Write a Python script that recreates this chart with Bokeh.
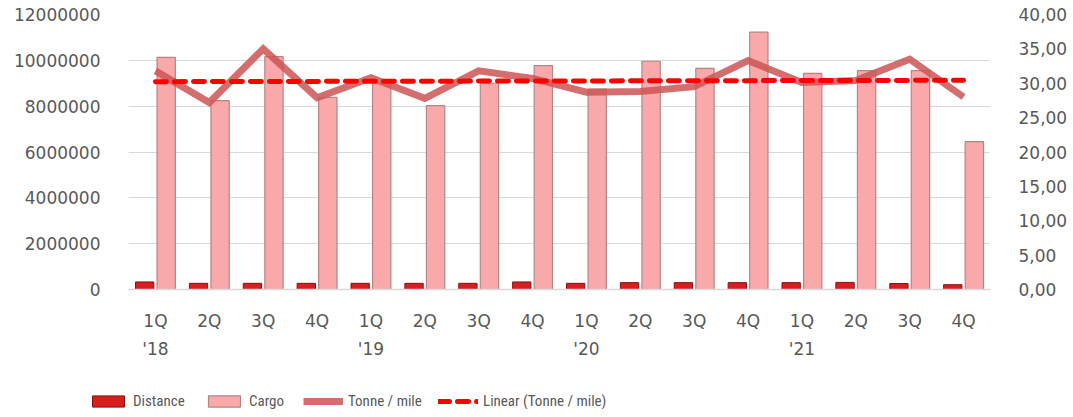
import numpy as np
from bokeh.plotting import figure
from bokeh.layouts import column
from bokeh.models import (Range1d, LinearAxis, FixedTicker, Legend, LegendItem,
                          ColumnDataSource, CustomJSTickFormatter, NumeralTickFormatter)
from bokeh.embed import file_html
from bokeh.resources import INLINE

quarters = ["1Q", "2Q", "3Q", "4Q", "1Q", "2Q", "3Q", "4Q",
            "1Q", "2Q", "3Q", "4Q", "1Q", "2Q", "3Q", "4Q"]
years = ["'18", "", "", "", "'19", "", "", "", "'20", "", "", "", "'21", "", "", ""]
distance = [330000, 270000, 270000, 270000, 270000, 270000, 270000, 330000,
            270000, 300000, 300000, 300000, 300000, 310000, 260000, 210000]
cargo = [10130000, 8240000, 10160000, 8380000, 9000000, 8020000, 9000000, 9770000,
         8750000, 9960000, 9650000, 11230000, 9430000, 9550000, 9550000, 6450000]
tonne_mile = [31.8, 27.2, 35.0, 27.9, 30.8, 27.8, 31.8, 30.7,
              28.7, 28.8, 29.5, 33.3, 30.1, 30.4, 33.5, 28.0]
series_names = ["Distance", "Cargo", "Tonne / mile", "Linear (Tonne / mile)"]

idx = np.arange(len(quarters))
slope, intercept = np.polyfit(idx, tonne_mile, 1)
trend = list(slope * idx + intercept)

src = ColumnDataSource(dict(x=idx, xd=idx - 0.2, xc=idx + 0.2, distance=distance,
                            cargo=cargo, tm=tonne_mile, trend=trend))

p = figure(width=1073, height=380, output_backend="svg", toolbar_location=None,
           x_range=Range1d(-0.5, 15.5), y_range=Range1d(0, 12000000),
           min_border_left=128, min_border_right=83, min_border_top=14,
           min_border_bottom=91, outline_line_color=None)
p.extra_y_ranges = {"tm": Range1d(0, 40)}

AX_FONT = "DejaVu Sans"
AX_COLOR = "#595959"

# grid
p.xgrid.grid_line_color = None
p.ygrid.grid_line_color = "#d9d9d9"
p.ygrid.grid_line_width = 1

# left axis
la = p.yaxis[0]
la.ticker = FixedTicker(ticks=[0, 2000000, 4000000, 6000000, 8000000, 10000000, 12000000])
la.formatter = NumeralTickFormatter(format="0")
la.axis_line_color = None
la.major_tick_line_color = None
la.minor_tick_line_color = None
la.major_label_standoff = 22
la.major_label_text_font = AX_FONT
la.major_label_text_font_size = "17px"
la.major_label_text_color = AX_COLOR

# right axis
ra = LinearAxis(y_range_name="tm")
ra.ticker = FixedTicker(ticks=[0, 5, 10, 15, 20, 25, 30, 35, 40])
ra.formatter = CustomJSTickFormatter(code="return tick.toFixed(2).replace('.', ',');")
ra.axis_line_color = None
ra.major_tick_line_color = None
ra.minor_tick_line_color = None
ra.major_label_standoff = 22
ra.major_label_text_font = AX_FONT
ra.major_label_text_font_size = "17px"
ra.major_label_text_color = AX_COLOR
p.add_layout(ra, "right")

# bottom axis
xa = p.xaxis[0]
xa.ticker = FixedTicker(ticks=list(idx))
xa.major_label_overrides = {int(i): (q + "\n" + y if y else q) for i, q, y in zip(idx, quarters, years)}
xa.axis_line_color = "#d9d9d9"
xa.axis_line_width = 1.5
xa.major_tick_line_color = None
xa.minor_tick_line_color = None
xa.major_label_standoff = 15
xa.major_label_text_font = AX_FONT
xa.major_label_text_font_size = "17px"
xa.major_label_text_color = AX_COLOR
xa.major_label_text_line_height = 1.44

DIST_STYLE = dict(fill_color="#d81e1e", line_color="#8a1010", line_width=1)
CARGO_STYLE = dict(fill_color="#f9a9a9", line_color="#b58585", line_width=1.2)
TM_STYLE = dict(line_color="#cd5555", line_alpha=0.85, line_width=7)
TR_STYLE = dict(line_color="#ff0000", line_width=5, line_dash="11 8", line_cap="round")

# bars
p.vbar(x="xd", top="distance", width=0.34, bottom=0, source=src, **DIST_STYLE)
p.vbar(x="xc", top="cargo", width=0.34, bottom=0, source=src, **CARGO_STYLE)
# tonne / mile line
p.line(x="x", y="tm", source=src, y_range_name="tm", line_join="miter", **TM_STYLE)
# linear trend
p.line(x="x", y="trend", source=src, y_range_name="tm", **TR_STYLE)

# legend strip (separate figure, so the legend is not clipped by the chart frame)
lf = figure(width=1073, height=37, output_backend="svg", toolbar_location=None,
            x_range=Range1d(0, 1), y_range=Range1d(0, 1),
            x_axis_location=None, y_axis_location=None,
            min_border_left=0, min_border_right=0, min_border_top=0, min_border_bottom=0,
            outline_line_color=None)
lf.xgrid.grid_line_color = None
lf.ygrid.grid_line_color = None
for fig in (p, lf):
    if hasattr(fig, "frame_align"):
        fig.frame_align = False
# legend proxies: data lies outside the strip's visible range
proxy = ColumnDataSource(dict(x=[-10, -9], y=[-10, -10], top=[-10, -10]))
lr = [lf.vbar(x="x", top="top", width=0.1, source=proxy, **DIST_STYLE),
      lf.vbar(x="x", top="top", width=0.1, source=proxy, **CARGO_STYLE),
      lf.line(x="x", y="y", source=proxy, **TM_STYLE),
      lf.line(x="x", y="y", source=proxy, **TR_STYLE)]

LEG_FONT = "Liberation Sans Narrow, Roboto Condensed, Roboto"
leg_x = [88, 204, 303, 438]
for name, r, lx in zip(series_names, lr, leg_x):
    lg = Legend(items=[LegendItem(label=name, renderers=[r])],
                location=(lx, 6), orientation="horizontal",
                padding=0, margin=0, border_line_alpha=0, background_fill_alpha=0,
                glyph_width=40, glyph_height=14, label_standoff=5, label_height=20,
                label_text_font=LEG_FONT, label_text_font_size="15px",
                label_text_color=AX_COLOR, spacing=0)
    lf.add_layout(lg, "center")

layout = column(p, lf, spacing=0)
open("out.html", "w").write(file_html(layout, INLINE))
